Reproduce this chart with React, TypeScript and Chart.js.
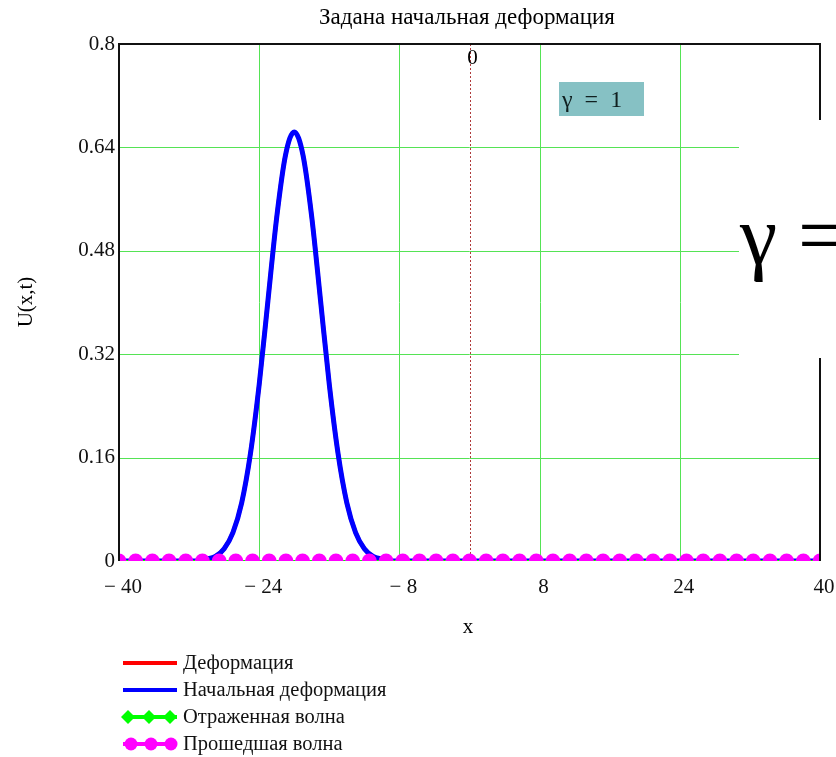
import React, { useEffect, useRef } from 'react';
import { Chart, registerables } from 'chart.js';

Chart.register(...registerables);

// ---- Texts ----
const TITLE = 'Задана начальная деформация';
const X_LABEL = 'x';
const Y_LABEL = 'U(x,t)';
const LEGEND_LABELS = ['Деформация', 'Начальная деформация', 'Отраженная волна', 'Прошедшая волна'];
const GAMMA_BOX = 'γ  =  1';
const GAMMA_BIG = 'γ =';
const ZERO_MARK = '0';

// ---- Ticks ----
const X_TICKS = [-40, -24, -8, 8, 24, 40];
const Y_TICKS = [0, 0.16, 0.32, 0.48, 0.64, 0.8];

// ---- Series ----
const pulseX = [-40, -32, -31, -30, -29, -28, -27, -26, -25, -24, -23, -22, -21, -20, -19, -18, -17, -16, -15, -14, -13, -12, -11, -10, -9, -8, 40];
const initialU = [0, 0, 0, 0.003, 0.007, 0.019, 0.044, 0.09, 0.166, 0.273, 0.403, 0.532, 0.628, 0.664, 0.628, 0.532, 0.403, 0.273, 0.166, 0.09, 0.044, 0.019, 0.007, 0.003, 0, 0, 0];
// at t = 0 the deformation coincides with the initial deformation (hidden under it)
const deformationU = [0, 0, 0, 0.003, 0.007, 0.019, 0.044, 0.09, 0.166, 0.273, 0.403, 0.532, 0.628, 0.664, 0.628, 0.532, 0.403, 0.273, 0.166, 0.09, 0.044, 0.019, 0.007, 0.003, 0, 0, 0];

const waveX = [-40, -38.1, -36.19, -34.29, -32.38, -30.48, -28.57, -26.67, -24.76, -22.86, -20.95, -19.05, -17.14, -15.24, -13.33, -11.43, -9.52, -7.62, -5.71, -3.81, -1.9, 0, 1.9, 3.81, 5.71, 7.62, 9.52, 11.43, 13.33, 15.24, 17.14, 19.05, 20.95, 22.86, 24.76, 26.67, 28.57, 30.48, 32.38, 34.29, 36.19, 38.1, 40];
const reflectedU = [0, 0, 0, 0, 0, 0, 0, 0, 0, 0, 0, 0, 0, 0, 0, 0, 0, 0, 0, 0, 0, 0, 0, 0, 0, 0, 0, 0, 0, 0, 0, 0, 0, 0, 0, 0, 0, 0, 0, 0, 0, 0, 0];
const transmittedU = [0, 0, 0, 0, 0, 0, 0, 0, 0, 0, 0, 0, 0, 0, 0, 0, 0, 0, 0, 0, 0, 0, 0, 0, 0, 0, 0, 0, 0, 0, 0, 0, 0, 0, 0, 0, 0, 0, 0, 0, 0, 0, 0];

const RED = '#ff0000';
const BLUE = '#0000ff';
const GREEN = '#00ff00';
const MAGENTA = '#ff00ff';
const GRID = '#55e355';
const SERIF = "'Liberation Serif', 'Times New Roman', serif";

const zip = (xs: number[], ys: number[]) => xs.map((x, i) => ({ x, y: ys[i] }));
const fmtY = (v: number) => String(Number(v.toFixed(2)));
const fmtX = (v: number) => (v < 0 ? '\u2212 ' + Math.abs(v) : String(v));

const overlayPlugin = {
  id: 'overlay',
  beforeDatasetsDraw(chart: any) {
    const { ctx, chartArea, scales } = chart;
    const { left, right, top, bottom } = chartArea;
    ctx.save();
    // green grid (inner ticks only)
    ctx.strokeStyle = GRID;
    ctx.lineWidth = 1;
    X_TICKS.slice(1, -1).forEach((v) => {
      const px = Math.round(scales.x.getPixelForValue(v)) + 0.5;
      ctx.beginPath();
      ctx.moveTo(px, top);
      ctx.lineTo(px, bottom);
      ctx.stroke();
    });
    Y_TICKS.slice(1, -1).forEach((v) => {
      const py = Math.round(scales.y.getPixelForValue(v)) + 0.5;
      ctx.beginPath();
      ctx.moveTo(left, py);
      ctx.lineTo(right, py);
      ctx.stroke();
    });
    // dotted zero line
    const x0 = Math.round(scales.x.getPixelForValue(0)) + 0.5;
    ctx.strokeStyle = '#b03a3a';
    ctx.setLineDash([2, 2]);
    ctx.beginPath();
    ctx.moveTo(x0, top);
    ctx.lineTo(x0, bottom);
    ctx.stroke();
    ctx.restore();
  },
  afterDatasetsDraw(chart: any) {
    const { ctx, chartArea } = chart;
    const { left, right, top, bottom } = chartArea;
    ctx.save();
    ctx.strokeStyle = '#111';
    ctx.lineWidth = 2;
    ctx.beginPath();
    ctx.moveTo(left, bottom);
    ctx.lineTo(left, top);
    ctx.lineTo(right, top);
    ctx.lineTo(right, bottom);
    ctx.stroke();
    ctx.restore();
  },
  afterDraw(chart: any) {
    const { ctx, scales, width } = chart;
    ctx.save();
    ctx.fillStyle = '#000';
    // title
    ctx.font = `23px ${SERIF}`;
    ctx.textAlign = 'center';
    ctx.textBaseline = 'middle';
    ctx.fillText(TITLE, 467, 18);
    // x label
    ctx.font = `21px ${SERIF}`;
    ctx.fillText(X_LABEL, 468, 627);
    // y label
    ctx.save();
    ctx.translate(26, 302);
    ctx.rotate(-Math.PI / 2);
    ctx.fillText(Y_LABEL, 0, 0);
    ctx.restore();
    // zero mark
    ctx.fillText(ZERO_MARK, scales.x.getPixelForValue(0) + 3, 58);

    // gamma box
    ctx.fillStyle = '#86c1c4';
    ctx.fillRect(559, 82, 85, 34);
    ctx.fillStyle = '#102020';
    ctx.font = `24px ${SERIF}`;
    ctx.textAlign = 'left';
    ctx.textBaseline = 'alphabetic';
    ctx.fillText(GAMMA_BOX, 562, 107);

    // big white overlay with gamma
    ctx.fillStyle = '#ffffff';
    ctx.fillRect(739, 120, width - 739, 238);
    ctx.fillStyle = '#000';
    ctx.font = `84px ${SERIF}`;
    ctx.fillText(GAMMA_BIG, 740, 264);

    // legend
    const rows = [663, 690, 717, 744];
    const sx0 = 123, sx1 = 177, tx = 183;
    ctx.font = `20.5px ${SERIF}`;
    ctx.textBaseline = 'middle';
    rows.forEach((y, i) => {
      const col = [RED, BLUE, GREEN, MAGENTA][i];
      ctx.strokeStyle = col;
      ctx.lineWidth = 4;
      ctx.lineCap = 'butt';
      ctx.beginPath();
      ctx.moveTo(sx0, y);
      ctx.lineTo(sx1, y);
      ctx.stroke();
      ctx.fillStyle = col;
      if (i === 2) {
        [128, 149, 170].forEach((cx) => {
          ctx.beginPath();
          ctx.moveTo(cx, y - 7);
          ctx.lineTo(cx + 7, y);
          ctx.lineTo(cx, y + 7);
          ctx.lineTo(cx - 7, y);
          ctx.closePath();
          ctx.fill();
        });
      } else if (i === 3) {
        [131, 151, 171].forEach((cx) => {
          ctx.beginPath();
          ctx.arc(cx, y, 6.5, 0, Math.PI * 2);
          ctx.fill();
        });
      }
      ctx.fillStyle = '#111';
      ctx.fillText(LEGEND_LABELS[i], tx, y + 1);
    });
    ctx.restore();
  },
};

export default function App() {
  const ref = useRef<HTMLCanvasElement>(null);
  useEffect(() => {
    if (!ref.current) return;
    const chart = new Chart(ref.current, {
      type: 'line',
      data: {
        datasets: [
          {
            label: LEGEND_LABELS[0],
            data: zip(pulseX, deformationU),
            borderColor: RED,
            borderWidth: 4,
            pointRadius: 0,
            cubicInterpolationMode: 'monotone',
            order: 4,
          },
          {
            label: LEGEND_LABELS[1],
            data: zip(pulseX, initialU),
            borderColor: BLUE,
            borderWidth: 5,
            pointRadius: 0,
            cubicInterpolationMode: 'monotone',
            order: 3,
          },
          {
            label: LEGEND_LABELS[2],
            data: zip(waveX, reflectedU),
            borderColor: GREEN,
            backgroundColor: GREEN,
            borderWidth: 2,
            pointStyle: 'rectRot',
            pointRadius: 5,
            pointBorderWidth: 0,
            order: 2,
          },
          {
            label: LEGEND_LABELS[3],
            data: zip(waveX, transmittedU),
            borderColor: 'rgba(0,0,0,0)',
            backgroundColor: MAGENTA,
            borderWidth: 0,
            pointStyle: 'circle',
            pointRadius: 7.5,
            pointBorderWidth: 0,
            order: 1,
          },
        ],
      },
      options: {
        responsive: false,
        animation: false,
        events: [],
        layout: { padding: { top: 44, right: 16, left: 0, bottom: 0 } },
        plugins: { legend: { display: false }, title: { display: false }, tooltip: { enabled: false } },
        scales: {
          x: {
            type: 'linear',
            min: -40,
            max: 40,
            afterBuildTicks: (s: any) => { s.ticks = X_TICKS.map((v) => ({ value: v })); },
            afterFit: (s: any) => { s.height = 196; s.paddingLeft = 0; s.paddingRight = 0; },
            border: { display: false },
            grid: { display: false, drawTicks: false },
            ticks: {
              autoSkip: false,
              maxRotation: 0,
              padding: 14,
              labelOffset: 4,
              color: '#111',
              font: { family: SERIF, size: 21 },
              callback: (v: any) => fmtX(Number(v)),
            },
          },
          y: {
            type: 'linear',
            min: 0,
            max: 0.8,
            afterBuildTicks: (s: any) => { s.ticks = Y_TICKS.map((v) => ({ value: v })); },
            afterFit: (s: any) => { s.width = 119; s.paddingTop = 0; s.paddingBottom = 0; },
            border: { display: false },
            grid: { display: false, drawTicks: false },
            ticks: {
              autoSkip: false,
              padding: 4,
              color: '#111',
              font: { family: SERIF, size: 21 },
              callback: (v: any) => fmtY(Number(v)),
            },
          },
        },
      },
      plugins: [overlayPlugin],
    } as any);
    return () => chart.destroy();
  }, []);
  return (
    <canvas
      ref={ref}
      width={836}
      height={757}
      style={{ position: 'fixed', left: 0, top: 0, width: 836, height: 757, background: '#fff' }}
    />
  );
}
